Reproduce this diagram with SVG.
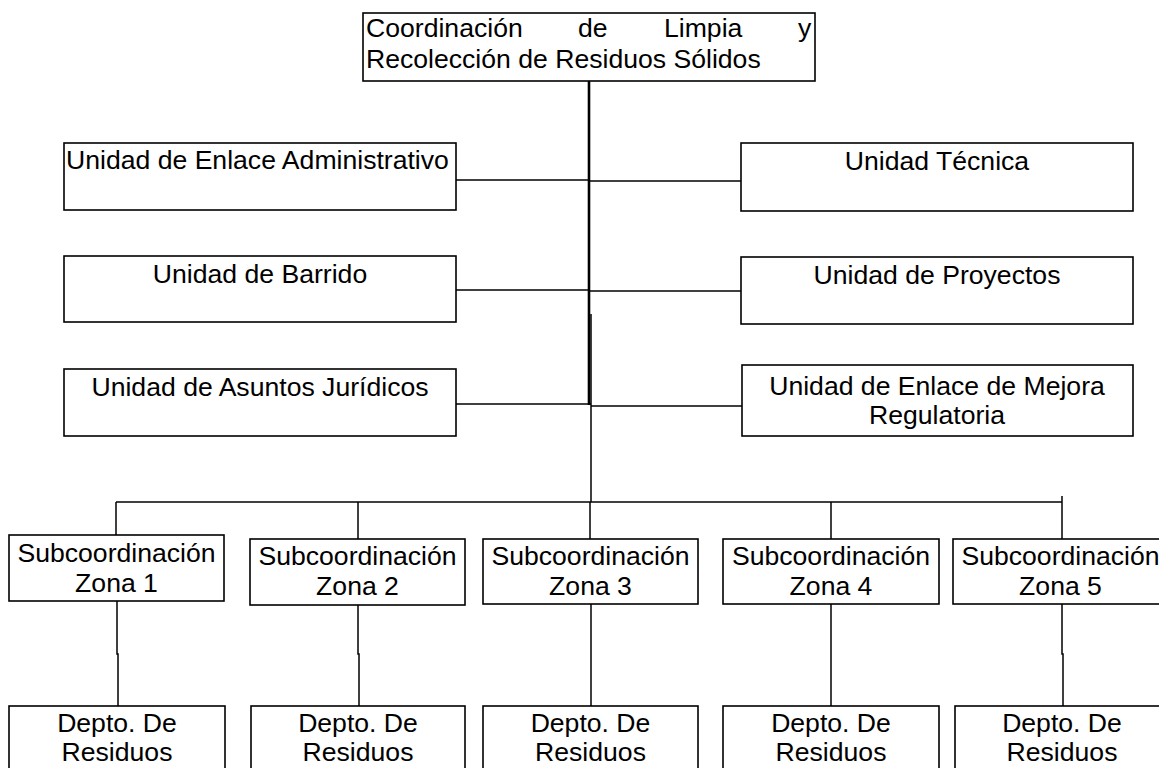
<svg xmlns="http://www.w3.org/2000/svg" width="1159" height="768" viewBox="0 0 1159 768">
<style>
.box{fill:#fff;stroke:#000;stroke-width:1.6}
.ln{stroke:#000;stroke-width:1.5;fill:none}
.trunk{stroke:#000;stroke-width:2.6;fill:none}
.t{font-family:"Liberation Sans",Arial,sans-serif;font-size:26.6px;fill:#000}
.c{text-anchor:middle}
</style>
<rect width="1159" height="768" fill="#fff"/>
<g id="connectors">
<line class="trunk" x1="589" y1="81" x2="589" y2="405"/>
<line class="ln" x1="591" y1="314" x2="591" y2="502"/>
<line class="ln" x1="456" y1="180" x2="589" y2="180"/>
<line class="ln" x1="589" y1="181" x2="741" y2="181"/>
<line class="ln" x1="456" y1="290" x2="589" y2="290"/>
<line class="ln" x1="589" y1="291" x2="741" y2="291"/>
<line class="ln" x1="456" y1="404" x2="591" y2="404"/>
<line class="ln" x1="591" y1="406" x2="742" y2="406"/>
<line class="ln" x1="116" y1="502" x2="1062" y2="502"/>
<line class="ln" x1="116" y1="502" x2="116" y2="535"/>
<line class="ln" x1="358" y1="502" x2="358" y2="539"/>
<line class="ln" x1="590" y1="502" x2="590" y2="539"/>
<line class="ln" x1="831" y1="502" x2="831" y2="539"/>
<line class="ln" x1="1062" y1="496" x2="1062" y2="539"/>
<path class="ln" d="M117 601V654H118V706"/>
<path class="ln" d="M358 605V654H359V706"/>
<line class="ln" x1="591" y1="604" x2="591" y2="706"/>
<line class="ln" x1="831" y1="604" x2="831" y2="706"/>
<path class="ln" d="M1062 604V654H1063V706"/>
</g>
<g id="coordinacion">
<rect class="box" x="363" y="13" width="452" height="68"/>
<text class="t" y="37"><tspan x="366">Coordinación</tspan><tspan x="578">de</tspan><tspan x="664">Limpia</tspan><tspan x="798">y</tspan></text>
<text class="t" x="366" y="68">Recolección de Residuos Sólidos</text>
</g>
<g id="enlace-administrativo">
<rect class="box" x="64" y="143" width="392" height="67"/>
<text class="t" x="66" y="169">Unidad de Enlace Administrativo</text>
</g>
<g id="tecnica">
<rect class="box" x="741" y="143" width="392" height="68"/>
<text class="t c" x="937" y="170">Unidad Técnica</text>
</g>
<g id="barrido">
<rect class="box" x="64" y="256" width="392" height="66"/>
<text class="t c" x="260" y="283">Unidad de Barrido</text>
</g>
<g id="proyectos">
<rect class="box" x="741" y="257" width="392" height="67"/>
<text class="t c" x="937" y="284">Unidad de Proyectos</text>
</g>
<g id="asuntos-juridicos">
<rect class="box" x="64" y="369" width="392" height="67"/>
<text class="t c" x="260" y="396">Unidad de Asuntos Jurídicos</text>
</g>
<g id="mejora-regulatoria">
<rect class="box" x="742" y="365" width="391" height="71"/>
<text class="t c" x="937" y="395">Unidad de Enlace de Mejora</text>
<text class="t c" x="937" y="424">Regulatoria</text>
</g>
<g id="zona1">
<rect class="box" x="9" y="535" width="215" height="66"/>
<text class="t c" x="116.5" y="562">Subcoordinación</text>
<text class="t c" x="116.5" y="592">Zona 1</text>
</g>
<g id="zona2">
<rect class="box" x="250" y="539" width="215" height="66"/>
<text class="t c" x="357.5" y="565">Subcoordinación</text>
<text class="t c" x="357.5" y="595">Zona 2</text>
</g>
<g id="zona3">
<rect class="box" x="483" y="539" width="215" height="65"/>
<text class="t c" x="590.5" y="565">Subcoordinación</text>
<text class="t c" x="590.5" y="595">Zona 3</text>
</g>
<g id="zona4">
<rect class="box" x="723" y="539" width="216" height="65"/>
<text class="t c" x="831" y="565">Subcoordinación</text>
<text class="t c" x="831" y="595">Zona 4</text>
</g>
<g id="zona5">
<rect class="box" x="953" y="539" width="216" height="65"/>
<text class="t c" x="1060.5" y="565">Subcoordinación</text>
<text class="t c" x="1060.5" y="595">Zona 5</text>
</g>
<g id="depto1">
<rect class="box" x="9" y="706" width="216" height="80"/>
<text class="t c" x="117" y="732">Depto. De</text>
<text class="t c" x="117" y="761">Residuos</text>
</g>
<g id="depto2">
<rect class="box" x="251" y="706" width="214" height="80"/>
<text class="t c" x="358" y="732">Depto. De</text>
<text class="t c" x="358" y="761">Residuos</text>
</g>
<g id="depto3">
<rect class="box" x="483" y="706" width="215" height="80"/>
<text class="t c" x="590.5" y="732">Depto. De</text>
<text class="t c" x="590.5" y="761">Residuos</text>
</g>
<g id="depto4">
<rect class="box" x="723" y="706" width="216" height="80"/>
<text class="t c" x="831" y="732">Depto. De</text>
<text class="t c" x="831" y="761">Residuos</text>
</g>
<g id="depto5">
<rect class="box" x="955" y="706" width="214" height="80"/>
<text class="t c" x="1062" y="732">Depto. De</text>
<text class="t c" x="1062" y="761">Residuos</text>
</g>
</svg>
